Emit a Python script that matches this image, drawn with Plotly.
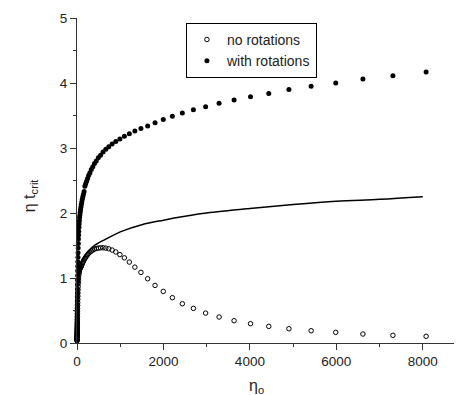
import plotly.graph_objects as go

# eta_o sample points (log-spaced)
eta = [8077, 7309, 6615, 5986, 5417, 4903, 4437, 4015, 3634, 3288, 2976, 2693, 2437,
       2206, 1996, 1806, 1635, 1479, 1339, 1211, 1096, 992, 898, 813, 735, 666, 602,
       545, 493, 446, 404, 366, 331, 299, 271, 245, 222, 201, 182, 164, 149, 135, 122,
       110, 100, 90, 82, 74, 67, 60, 55, 49, 45, 40, 37, 33, 30, 27, 24, 22, 20, 18,
       16, 15, 13, 12, 11, 10, 9, 8, 7.3, 6.6, 6, 5.4, 4.9, 4.4, 4, 3.6, 3.3, 3, 2.7,
       2.4, 2.2, 2, 1.8, 1.6, 1.5, 1.3, 1.2, 1.1, 1.0]

with_rot = [4.17, 4.11, 4.06, 4.00, 3.95, 3.90, 3.84, 3.79, 3.74, 3.69, 3.635, 3.59, 3.54,
            3.49, 3.44, 3.39, 3.34, 3.30, 3.26, 3.22, 3.18, 3.14, 3.10, 3.06, 3.02, 2.98, 2.94,
            2.89, 2.85, 2.80, 2.76, 2.71, 2.67, 2.62, 2.58, 2.53, 2.49, 2.45, 2.41, 2.33, 2.29,
            2.25, 2.21, 2.17, 2.13, 2.09, 2.05, 2.01, 1.97, 1.93, 1.88, 1.83, 1.78, 1.72, 1.66,
            1.60, 1.53, 1.46, 1.39, 1.32, 1.25, 1.18, 1.11, 1.04, 0.97, 0.90, 0.83, 0.77, 0.71,
            0.65, 0.59, 0.54, 0.49, 0.44, 0.40, 0.36, 0.32, 0.29, 0.26, 0.23, 0.21, 0.19, 0.17,
            0.15, 0.13, 0.12, 0.10, 0.09, 0.08, 0.07, 0.06]

no_rot = [0.103, 0.118, 0.138, 0.164, 0.189, 0.22, 0.256, 0.297, 0.343, 0.40, 0.46, 0.533, 0.604,
          0.697, 0.794, 0.886, 0.988, 1.086, 1.167, 1.245, 1.31, 1.36, 1.40, 1.43, 1.45, 1.46, 1.465,
          1.465, 1.46, 1.455, 1.445, 1.43, 1.415, 1.40, 1.38, 1.36, 1.34, 1.32, 1.30, 1.28, 1.26,
          1.24, 1.22, 1.20, 1.18, 1.17, 1.16, 1.15, 1.14, 1.13, 1.11, 1.09, 1.07, 1.04, 1.00,
          0.96, 0.92, 0.87, 0.82, 0.77, 0.72, 0.67, 0.62, 0.58, 0.53, 0.49, 0.45, 0.41, 0.37,
          0.34, 0.31, 0.28, 0.25, 0.23, 0.21, 0.19, 0.17, 0.15, 0.14, 0.12, 0.11, 0.10, 0.09,
          0.08, 0.07, 0.06, 0.055, 0.05, 0.045, 0.04, 0.035]

# solid reference curve
line_eta = [0, 5, 10, 20, 40, 60, 100, 150, 200, 300, 400, 500, 700, 1000, 1500, 2000,
            2500, 3000, 4000, 5000, 6000, 7000, 8000]
line_val = [0, 0.35, 0.55, 0.8, 1.02, 1.12, 1.22, 1.30, 1.36, 1.44, 1.50, 1.54, 1.61, 1.71,
            1.82, 1.89, 1.95, 2.00, 2.07, 2.13, 2.18, 2.21, 2.25]

x_ticks = [0, 2000, 4000, 6000, 8000]
x_minor = [1000, 3000, 5000, 7000, 9000]
y_ticks = [0, 1, 2, 3, 4, 5]
y_minor = [0.5, 1.5, 2.5, 3.5, 4.5]

FONT = "Liberation Sans, Arial"
TXT = "#222"

fig = go.Figure()
fig.add_trace(go.Scatter(x=line_eta, y=line_val, mode="lines",
                         line=dict(color="black", width=1.5, shape="spline"),
                         showlegend=False, cliponaxis=False))
fig.add_trace(go.Scatter(x=eta, y=no_rot, mode="markers", name="no rotations",
                         marker=dict(symbol="circle-open", size=4.5, color="black",
                                     line=dict(width=1, color="black")),
                         cliponaxis=False))
fig.add_trace(go.Scatter(x=eta, y=with_rot, mode="markers", name="with rotations",
                         marker=dict(symbol="circle", size=5, color="black"),
                         cliponaxis=False))

axis_common = dict(showline=True, linecolor="#333", linewidth=1, ticks="outside", ticklen=6,
                   tickcolor="#333", showgrid=False, zeroline=False,
                   tickfont=dict(family=FONT, size=13.5, color=TXT))

fig.update_layout(
    width=462, height=395,
    margin=dict(l=69, r=4, t=10, b=60),
    paper_bgcolor="white", plot_bgcolor="white",
    font=dict(family=FONT, color=TXT),
    xaxis=dict(range=[0, 9000], tickvals=x_ticks,
               minor=dict(tickvals=x_minor, ticklen=3, ticks="outside", tickcolor="#333"),
               **axis_common),
    yaxis=dict(range=[0, 5], tickvals=y_ticks,
               minor=dict(tickvals=y_minor, ticklen=3, ticks="outside", tickcolor="#333"),
               **axis_common),
    legend=dict(x=0.28, y=0.985, xanchor="left", yanchor="top", bordercolor="black", borderwidth=1,
                bgcolor="white", font=dict(family=FONT, size=14, color=TXT), tracegroupgap=0),
    annotations=[
        dict(text="η<sub>o</sub>", xref="paper", yref="paper", x=(248 - 69) / 389, y=0,
             xanchor="center", yanchor="top", yshift=-32, showarrow=False,
             font=dict(family=FONT, size=16, color=TXT)),
        dict(text="η t<sub>crit</sub>", xref="paper", yref="paper", x=0, y=(335 - 187) / 325.5,
             xanchor="center", yanchor="middle", xshift=-47, textangle=-90, showarrow=False,
             font=dict(family=FONT, size=16, color=TXT)),
    ],
)

fig.write_html("out.html")
